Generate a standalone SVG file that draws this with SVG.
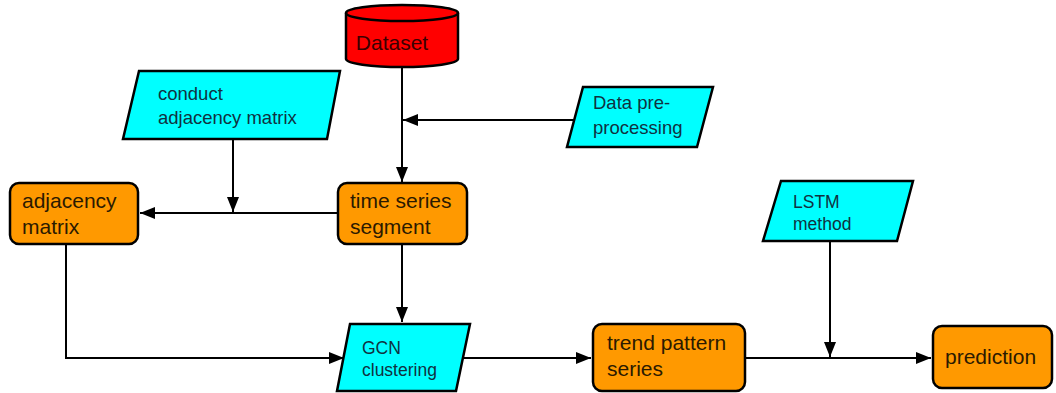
<svg xmlns="http://www.w3.org/2000/svg" width="1056" height="393" viewBox="0 0 1056 393">
  <style>
    .proc { fill: #FF9900; stroke: #000; stroke-width: 2.5; }
    .io { fill: #00FFFF; stroke: #000; stroke-width: 2.5; }
    .db { fill: #FF0000; stroke: #000; stroke-width: 2.5; }
    .edge { fill: none; stroke: #000; stroke-width: 2; }
    .t { font-family: "Liberation Sans", Arial, sans-serif; }
    .tp { font-size: 21px; fill: #2b1a00; }
    .ti { font-size: 18.5px; fill: #10323f; }
    .ts { font-size: 17.5px; fill: #10323f; }
    .td { font-size: 21px; fill: #3a0000; }
  </style>
  <defs>
    <marker id="arrow" viewBox="0 0 15 12" refX="15" refY="6" markerWidth="15" markerHeight="12" markerUnits="userSpaceOnUse" orient="auto">
      <path d="M0,0 L15,6 L0,12 z" fill="#000"/>
    </marker>
  </defs>

  <!-- connectors -->
  <g id="connectors">
    <path class="edge" d="M402,67 V182" marker-end="url(#arrow)"/>
    <path class="edge" d="M574,120 H403" marker-end="url(#arrow)"/>
    <path class="edge" d="M233,139 V212" marker-end="url(#arrow)"/>
    <path class="edge" d="M338,213 H140" marker-end="url(#arrow)"/>
    <path class="edge" d="M402,244 V322" marker-end="url(#arrow)"/>
    <path class="edge" d="M66,244 V358 H344" marker-end="url(#arrow)"/>
    <path class="edge" d="M462,358 H591" marker-end="url(#arrow)"/>
    <path class="edge" d="M745,358 H931" marker-end="url(#arrow)"/>
    <path class="edge" d="M830,241 V357" marker-end="url(#arrow)"/>
  </g>

  <!-- Dataset cylinder -->
  <g id="dataset">
    <path class="db" d="M346,13 V59 A56,8 0 0 0 458,59 V13"/>
    <ellipse class="db" cx="402" cy="13" rx="56" ry="8"/>
    <text class="t td" x="392" y="50" text-anchor="middle">Dataset</text>
  </g>

  <g id="conduct-adjacency">
    <polygon class="io" points="139,71 340,71 327,139 123,139"/>
    <text class="t ti" x="158" y="100">conduct</text>
    <text class="t ti" x="158" y="124">adjacency matrix</text>
  </g>

  <g id="data-preprocessing">
    <polygon class="io" points="583,87 713,87 697,147 567,147"/>
    <text class="t ti" x="593" y="109">Data  pre-</text>
    <text class="t ti" x="593" y="134">processing</text>
  </g>

  <g id="adjacency-matrix">
    <rect class="proc" x="10" y="183" width="128" height="61" rx="9"/>
    <text class="t tp" x="22" y="208">adjacency</text>
    <text class="t tp" x="22" y="234">matrix</text>
  </g>

  <g id="time-series-segment">
    <rect class="proc" x="338" y="183" width="129" height="61" rx="9"/>
    <text class="t tp" x="350" y="208">time series</text>
    <text class="t tp" x="350" y="234">segment</text>
  </g>

  <g id="lstm-method">
    <polygon class="io" points="781,181 913,181 897,241 763,241"/>
    <text class="t ts" x="793" y="208">LSTM</text>
    <text class="t ts" x="793" y="230">method</text>
  </g>

  <g id="gcn-clustering">
    <polygon class="io" points="350,324 470,324 456,391 337,391"/>
    <text class="t ts" x="362" y="354">GCN</text>
    <text class="t ts" x="362" y="376">clustering</text>
  </g>

  <g id="trend-pattern-series">
    <rect class="proc" x="593" y="324" width="152" height="67" rx="9"/>
    <text class="t tp" x="607" y="350">trend pattern</text>
    <text class="t tp" x="607" y="376">series</text>
  </g>

  <g id="prediction">
    <rect class="proc" x="933" y="326" width="119" height="62" rx="9"/>
    <text class="t tp" x="945" y="364">prediction</text>
  </g>
</svg>
